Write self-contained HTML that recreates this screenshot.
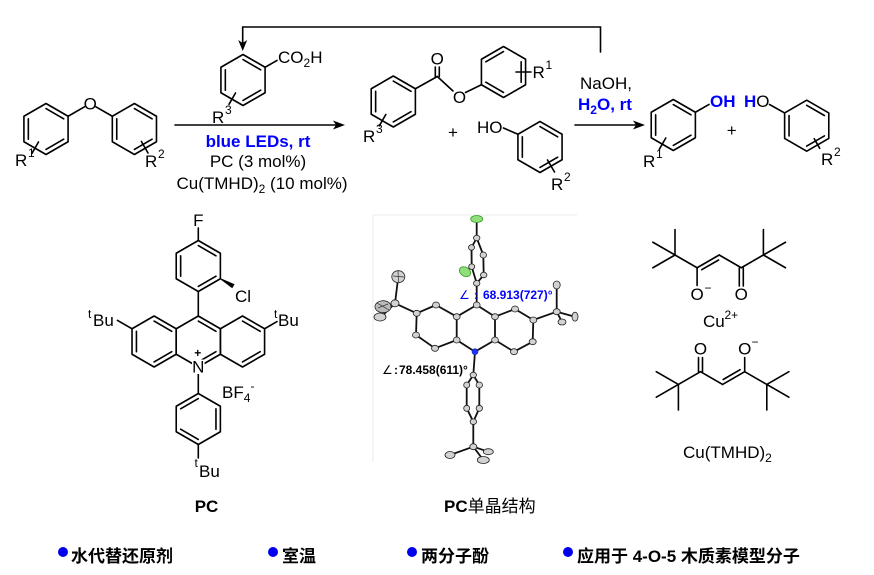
<!DOCTYPE html>
<html><head><meta charset="utf-8">
<style>
html,body{margin:0;padding:0;background:#fff;}
svg{display:block;}
text{font-family:"Liberation Sans",Arial,sans-serif;fill:#000;}
.b{font-weight:bold;}
.bl{fill:#0000ff;}
.cjk{font-family:"Liberation Sans","Noto Sans CJK SC",sans-serif;}
</style></head><body>
<svg width="874" height="575" viewBox="0 0 874 575" xmlns="http://www.w3.org/2000/svg">
<defs>
<polygon id="hx" points="0,-25.5 22.08,-12.75 22.08,12.75 0,25.5 -22.08,12.75 -22.08,-12.75" fill="none" stroke="#000" stroke-width="1.6" stroke-linejoin="round"/>
<path id="dP" d="M0,-20.4L17.66,-10.2M17.66,10.2L0,20.4M-17.66,10.2L-17.66,-10.2" stroke="#000" stroke-width="1.6" fill="none"/>
<path id="dQ" d="M17.66,-10.2L17.66,10.2M0,20.4L-17.66,10.2M-17.66,-10.2L0,-20.4" stroke="#000" stroke-width="1.6" fill="none"/>
<path id="dP2" d="M0,-20.4L17.66,-10.2M17.66,10.2L0,20.4" stroke="#000" stroke-width="1.6" fill="none"/>
</defs>

<g stroke="#000" stroke-width="1.6" fill="none" stroke-linecap="round">
<use href="#hx" x="46" y="129"/><use href="#dP" x="46" y="129"/>
<use href="#hx" x="134.4" y="129"/><use href="#dP" x="134.4" y="129"/>
<line x1="68.1" y1="116.25" x2="84.5" y2="106.8"/>
<line x1="95.9" y1="106.8" x2="112.3" y2="116.25"/>
<line x1="38.5" y1="142" x2="32" y2="153.3"/>
<line x1="141.4" y1="141.5" x2="148" y2="153"/>
<line x1="175" y1="125" x2="336" y2="125"/>
<use href="#hx" x="243" y="80"/><use href="#dP" x="243" y="80"/>
<line x1="265.1" y1="67.25" x2="277" y2="60.4"/>
<line x1="235.5" y1="93" x2="229" y2="104.3"/>
<polyline points="600.5,52 600.5,27 242.7,27 242.7,43"/>
<use href="#hx" x="393.3" y="101.5"/><use href="#dP" x="393.3" y="101.5"/>
<line x1="415.4" y1="88.75" x2="437.3" y2="76.5"/>
<line x1="435.3" y1="76.5" x2="435.3" y2="67"/>
<line x1="439.3" y1="76.5" x2="439.3" y2="67"/>
<line x1="437.3" y1="76.5" x2="453" y2="91"/>
<line x1="465.5" y1="92.5" x2="481.4" y2="84.75"/>
<use href="#hx" x="503.5" y="72"/><use href="#dQ" x="503.5" y="72"/>
<line x1="516" y1="72" x2="531" y2="72"/>
<line x1="385.8" y1="114.5" x2="379.3" y2="125.8"/>
<use href="#hx" x="540" y="147"/><use href="#dP" x="540" y="147"/>
<line x1="503.5" y1="128" x2="517.9" y2="134.25"/>
<line x1="547.5" y1="160" x2="554.5" y2="172"/>
<line x1="575" y1="125" x2="636" y2="125"/>
<use href="#hx" x="673.3" y="125"/><use href="#dP" x="673.3" y="125"/>
<line x1="695.4" y1="112.25" x2="709" y2="104.4"/>
<line x1="665.8" y1="138" x2="659.3" y2="149.3"/>
<use href="#hx" x="806.7" y="125.7"/><use href="#dP" x="806.7" y="125.7"/>
<line x1="769.5" y1="104.5" x2="784.6" y2="112.95"/>
<line x1="814.2" y1="138.7" x2="819.7" y2="148.3"/>
</g>
<polygon points="345,125 333,120.5 336,125 333,129.5" fill="#000"/>
<polygon points="645,125 633,120.5 636,125 633,129.5" fill="#000"/>
<polygon points="242.7,51 238.2,40 242.7,43 247.2,40" fill="#000"/>

<text x="90.2" y="109.5" font-size="17" text-anchor="middle">O</text>
<text x="15" y="166" font-size="17">R</text><text x="28" y="157" font-size="12">1</text>
<text x="145" y="167" font-size="17">R</text><text x="158" y="158" font-size="12">2</text>
<text x="258" y="147" font-size="17" text-anchor="middle" class="b bl">blue LEDs, rt</text>
<text x="258" y="167" font-size="17" text-anchor="middle">PC (3 mol%)</text>
<text x="262" y="189" font-size="17" text-anchor="middle">Cu(TMHD)<tspan font-size="12" dy="4">2</tspan><tspan dy="-4"> (10 mol%)</tspan></text>
<text x="278" y="63" font-size="17">CO<tspan font-size="12" dy="4">2</tspan><tspan dy="-4">H</tspan></text>
<text x="212" y="123" font-size="17">R</text><text x="225" y="114" font-size="12">3</text>
<text x="437.3" y="64.5" font-size="17" text-anchor="middle">O</text>
<text x="459.5" y="103" font-size="17" text-anchor="middle">O</text>
<text x="532.5" y="78" font-size="17">R</text><text x="545.5" y="69" font-size="12">1</text>
<text x="363" y="142" font-size="17">R</text><text x="376" y="133" font-size="12">3</text>
<text x="453" y="138" font-size="17" text-anchor="middle">+</text>
<text x="477" y="133" font-size="17">HO</text>
<text x="551" y="190" font-size="17">R</text><text x="564" y="181" font-size="12">2</text>
<text x="580" y="89" font-size="17">NaOH,</text>
<text x="578" y="110" font-size="17" class="b bl">H<tspan font-size="12" dy="4">2</tspan><tspan dy="-4">O, rt</tspan></text>
<text x="710" y="107" font-size="17" class="b bl">OH</text>
<text x="643" y="167" font-size="17">R</text><text x="656" y="158" font-size="12">1</text>
<text x="731.7" y="136" font-size="17" text-anchor="middle">+</text>
<text x="744" y="107" font-size="17"><tspan class="b bl">H</tspan>O</text>
<text x="821" y="165" font-size="17">R</text><text x="834" y="156" font-size="12">2</text>

<g stroke="#000" stroke-width="1.6" fill="none" stroke-linecap="round">
<use href="#hx" x="198.3" y="266"/><use href="#dP" x="198.3" y="266"/>
<line x1="198.3" y1="240.5" x2="198.3" y2="228"/>
<line x1="198.3" y1="291.5" x2="198.3" y2="316.5"/>
<use href="#hx" x="198.3" y="341.5"/><use href="#dP2" x="198.3" y="341.5"/>
<use href="#hx" x="154.1" y="341.5"/><use href="#dP" x="154.1" y="341.5"/>
<use href="#hx" x="242.5" y="341.5"/><use href="#dP2" x="242.5" y="341.5"/>
<line x1="132" y1="328.75" x2="117.5" y2="320.4"/>
<line x1="264.6" y1="328.75" x2="277" y2="321.6"/>
<line x1="198.3" y1="374" x2="198.3" y2="393.5"/>
<use href="#hx" x="198.3" y="419"/><use href="#dQ" x="198.3" y="419"/>
<line x1="198.3" y1="444.5" x2="198.3" y2="458"/>
</g>
<polygon points="220.4,278.75 233.9,284.5 232.1,287.5" fill="#000" stroke="#000" stroke-width="1"/>
<rect x="192" y="359.5" width="12.6" height="14.5" fill="#fff"/>
<text x="198.3" y="226" font-size="17" text-anchor="middle">F</text>
<text x="235" y="302" font-size="17">Cl</text>
<text x="198.3" y="372.5" font-size="17" text-anchor="middle">N</text>
<text x="197.8" y="357" font-size="12" text-anchor="middle" class="b">+</text>
<text x="88" y="318" font-size="12">t</text><text x="93" y="326" font-size="17">Bu</text>
<text x="274" y="318" font-size="12">t</text><text x="278" y="326" font-size="17">Bu</text>
<text x="194.5" y="467" font-size="12">t</text><text x="199" y="477" font-size="17">Bu</text>
<text x="222" y="398" font-size="17">BF</text><text x="243.8" y="402" font-size="12">4</text><text x="250.5" y="390" font-size="12">-</text>
<text x="206.5" y="512" font-size="17" text-anchor="middle" class="b">PC</text>

<g stroke="#ebebeb" stroke-width="1" fill="none">
<line x1="373" y1="215" x2="577" y2="215"/>
<line x1="373" y1="215" x2="373" y2="462"/>
</g>
<g stroke="#111" stroke-width="1.8" fill="none" stroke-linecap="round">
<line x1="476.7" y1="219" x2="476.7" y2="238"/>
<line x1="476.7" y1="238" x2="471.5" y2="247.5"/>
<line x1="476.7" y1="238" x2="483.3" y2="255"/>
<line x1="471.5" y1="247.5" x2="471.7" y2="266.7"/>
<line x1="483.3" y1="255" x2="483.7" y2="275"/>
<line x1="471.7" y1="266.7" x2="476.7" y2="283.3"/>
<line x1="483.7" y1="275" x2="476.7" y2="283.3"/>
<line x1="471.7" y1="266.7" x2="465" y2="271.7"/>
<line x1="476.7" y1="283.3" x2="476.7" y2="305"/>
<line x1="476.7" y1="305" x2="456.7" y2="316.7"/>
<line x1="476.7" y1="305" x2="495" y2="316.7"/>
<line x1="456.7" y1="316.7" x2="456.7" y2="340"/>
<line x1="495" y1="316.7" x2="495" y2="340"/>
<line x1="456.7" y1="340" x2="475" y2="351.7"/>
<line x1="495" y1="340" x2="475" y2="351.7"/>
<line x1="456.7" y1="316.7" x2="436" y2="305"/>
<line x1="436" y1="305" x2="416.7" y2="313.3"/>
<line x1="416.7" y1="313.3" x2="416" y2="335"/>
<line x1="416" y1="335" x2="435" y2="348.3"/>
<line x1="435" y1="348.3" x2="456.7" y2="340"/>
<line x1="416.7" y1="313.3" x2="395" y2="303.3"/>
<line x1="395" y1="303.3" x2="398.3" y2="276.7"/>
<line x1="395" y1="303.3" x2="383" y2="306.7"/>
<line x1="395" y1="303.3" x2="381" y2="317"/>
<line x1="495" y1="316.7" x2="515" y2="309"/>
<line x1="515" y1="309" x2="533.3" y2="320"/>
<line x1="533.3" y1="320" x2="532.7" y2="341.7"/>
<line x1="532.7" y1="341.7" x2="514" y2="351.7"/>
<line x1="514" y1="351.7" x2="495" y2="340"/>
<line x1="533.3" y1="320" x2="556.7" y2="311.7"/>
<line x1="556.7" y1="311.7" x2="556.7" y2="285"/>
<line x1="556.7" y1="311.7" x2="575" y2="316.7"/>
<line x1="556.7" y1="311.7" x2="562" y2="322"/>
<line x1="475" y1="351.7" x2="473.3" y2="375"/>
<line x1="473.3" y1="375" x2="466.7" y2="385"/>
<line x1="473.3" y1="375" x2="479.3" y2="385"/>
<line x1="466.7" y1="385" x2="466.7" y2="408.3"/>
<line x1="479.3" y1="385" x2="479.3" y2="408.3"/>
<line x1="466.7" y1="408.3" x2="473.3" y2="421.7"/>
<line x1="479.3" y1="408.3" x2="473.3" y2="421.7"/>
<line x1="473.3" y1="421.7" x2="473.3" y2="446.7"/>
<line x1="473.3" y1="446.7" x2="450" y2="455"/>
<line x1="473.3" y1="446.7" x2="488.3" y2="451.7"/>
<line x1="473.3" y1="446.7" x2="483.3" y2="460"/>
</g>
<g fill="#d2d2d2" stroke="#222" stroke-width="0.8">
<ellipse cx="476.7" cy="238" rx="3.2" ry="2.8"/>
<ellipse cx="471.5" cy="247.5" rx="3" ry="2.8"/>
<ellipse cx="483.3" cy="255" rx="3.2" ry="3"/>
<ellipse cx="471.7" cy="266.7" rx="3" ry="2.8"/>
<ellipse cx="483.7" cy="275" rx="3.2" ry="2.8"/>
<ellipse cx="476.7" cy="283.3" rx="3.2" ry="2.8"/>
<ellipse cx="476.7" cy="305" rx="3.4" ry="3"/>
<ellipse cx="456.7" cy="316.7" rx="3.4" ry="3"/>
<ellipse cx="495" cy="316.7" rx="3.4" ry="3"/>
<ellipse cx="456.7" cy="340" rx="3.4" ry="3"/>
<ellipse cx="495" cy="340" rx="3.4" ry="3"/>
<ellipse cx="436" cy="305" rx="3.5" ry="3"/>
<ellipse cx="416.7" cy="313.3" rx="3.5" ry="3"/>
<ellipse cx="416" cy="335" rx="3.5" ry="3"/>
<ellipse cx="435" cy="348.3" rx="3.5" ry="3"/>
<ellipse cx="395" cy="303.3" rx="4" ry="3.5"/>
<ellipse cx="398.3" cy="276.7" rx="6.5" ry="6"/>
<ellipse cx="383" cy="306.7" rx="8" ry="6" fill="#bbb"/>
<ellipse cx="380" cy="317" rx="6" ry="4"/>
<ellipse cx="515" cy="309" rx="3.5" ry="3"/>
<ellipse cx="533.3" cy="320" rx="3.5" ry="3"/>
<ellipse cx="532.7" cy="341.7" rx="3.5" ry="3"/>
<ellipse cx="514" cy="351.7" rx="3.5" ry="3"/>
<ellipse cx="556.7" cy="311.7" rx="3.5" ry="3"/>
<ellipse cx="556.7" cy="285" rx="3.5" ry="4"/>
<ellipse cx="575" cy="316.7" rx="3" ry="4.5"/>
<ellipse cx="562" cy="322" rx="4" ry="3"/>
<ellipse cx="473.3" cy="375" rx="3.2" ry="2.8"/>
<ellipse cx="466.7" cy="385" rx="3" ry="3"/>
<ellipse cx="479.3" cy="385" rx="3.2" ry="3"/>
<ellipse cx="466.7" cy="408.3" rx="3" ry="3"/>
<ellipse cx="479.3" cy="408.3" rx="3.2" ry="3"/>
<ellipse cx="473.3" cy="421.7" rx="3.2" ry="2.8"/>
<ellipse cx="473.3" cy="446.7" rx="3.5" ry="3"/>
<ellipse cx="450" cy="455" rx="5" ry="3.5"/>
<ellipse cx="488.3" cy="451.7" rx="5" ry="3"/>
<ellipse cx="483.3" cy="460" rx="6" ry="3.5"/>
</g>
<g stroke="#333" stroke-width="0.7">
<line x1="377" y1="303" x2="389" y2="310"/><line x1="378" y1="308" x2="388" y2="304"/>
<line x1="393" y1="276" x2="404" y2="277"/><line x1="398" y1="271" x2="398.5" y2="282"/>
</g>
<ellipse cx="476.7" cy="219" rx="6" ry="3.5" fill="#8fe07a" stroke="#3a9a2a" stroke-width="0.8"/>
<ellipse cx="465" cy="271.7" rx="6" ry="4.5" fill="#8fe07a" stroke="#3a9a2a" stroke-width="0.8" transform="rotate(30 465 271.7)"/>
<circle cx="475" cy="351.7" r="3" fill="#2233ff" stroke="#1122aa" stroke-width="0.6"/>
<text x="459" y="299" font-size="12" class="bl" font-family="DejaVu Sans">∠</text>
<text x="474" y="299" font-size="12" class="b bl">:</text>
<text x="483" y="299" font-size="12" class="b bl">68.913(727)°</text>
<text x="382" y="374" font-size="12" font-family="DejaVu Sans">∠</text>
<text x="394" y="374" font-size="12" class="b">:</text>
<text x="399" y="374" font-size="12" class="b">78.458(611)°</text>
<text x="444" y="512" font-size="17" class="cjk"><tspan class="b">PC</tspan>单晶结构</text>

<g stroke="#000" stroke-width="1.6" fill="none" stroke-linecap="round">
<line x1="675" y1="255" x2="675" y2="229.5"/>
<line x1="675" y1="255" x2="652.9" y2="242.25"/>
<line x1="675" y1="255" x2="652.9" y2="267.75"/>
<line x1="675" y1="255" x2="697.1" y2="267.75"/>
<line x1="697.1" y1="267.75" x2="719.2" y2="255"/>
<line x1="701.7" y1="269.7" x2="718.6" y2="260"/>
<line x1="697.1" y1="267.75" x2="697.1" y2="285.5"/>
<line x1="719.2" y1="255" x2="741.3" y2="267.75"/>
<line x1="739.3" y1="267.75" x2="739.3" y2="286"/>
<line x1="743.3" y1="267.75" x2="743.3" y2="286"/>
<line x1="741.3" y1="267.75" x2="763.4" y2="255"/>
<line x1="763.4" y1="255" x2="763.4" y2="229.5"/>
<line x1="763.4" y1="255" x2="785.5" y2="242.25"/>
<line x1="763.4" y1="255" x2="785.5" y2="267.75"/>
<line x1="698.5" y1="371.7" x2="698.5" y2="357.5"/>
<line x1="702.5" y1="371.7" x2="702.5" y2="357.5"/>
<line x1="700.5" y1="371.7" x2="678.4" y2="384.45"/>
<line x1="678.4" y1="384.45" x2="656.3" y2="371.7"/>
<line x1="678.4" y1="384.45" x2="656.3" y2="397.2"/>
<line x1="678.4" y1="384.45" x2="678.4" y2="409.95"/>
<line x1="700.5" y1="371.7" x2="722.6" y2="384.45"/>
<line x1="722.6" y1="384.45" x2="744.7" y2="371.7"/>
<line x1="723.2" y1="379.5" x2="740.1" y2="369.7"/>
<line x1="744.7" y1="371.7" x2="744.7" y2="357.5"/>
<line x1="744.7" y1="371.7" x2="766.8" y2="384.45"/>
<line x1="766.8" y1="384.45" x2="788.9" y2="371.7"/>
<line x1="766.8" y1="384.45" x2="788.9" y2="397.2"/>
<line x1="766.8" y1="384.45" x2="766.8" y2="409.95"/>
</g>
<text x="697.1" y="300" font-size="17" text-anchor="middle">O</text><text x="704.5" y="292" font-size="12">−</text>
<text x="741.3" y="300" font-size="17" text-anchor="middle">O</text>
<text x="703" y="327" font-size="17">Cu</text><text x="724.5" y="319" font-size="12">2+</text>
<text x="700.5" y="354.5" font-size="17" text-anchor="middle">O</text>
<text x="744.7" y="354.5" font-size="17" text-anchor="middle">O</text><text x="751.5" y="346" font-size="12">−</text>
<text x="683" y="458" font-size="17">Cu(TMHD)<tspan font-size="12" dy="4">2</tspan></text>

<g fill="#0000ee">
<circle cx="63" cy="552" r="5"/>
<circle cx="273" cy="552" r="5"/>
<circle cx="412" cy="552" r="5"/>
<circle cx="568" cy="552" r="5"/>
</g>
<text x="71" y="562" font-size="17" class="cjk b">水代替还原剂</text>
<text x="282" y="562" font-size="17" class="cjk b">室温</text>
<text x="421" y="562" font-size="17" class="cjk b">两分子酚</text>
<text x="577" y="562" font-size="17" class="cjk b">应用于 4-O-5 木质素模型分子</text>
</svg>
</body></html>
